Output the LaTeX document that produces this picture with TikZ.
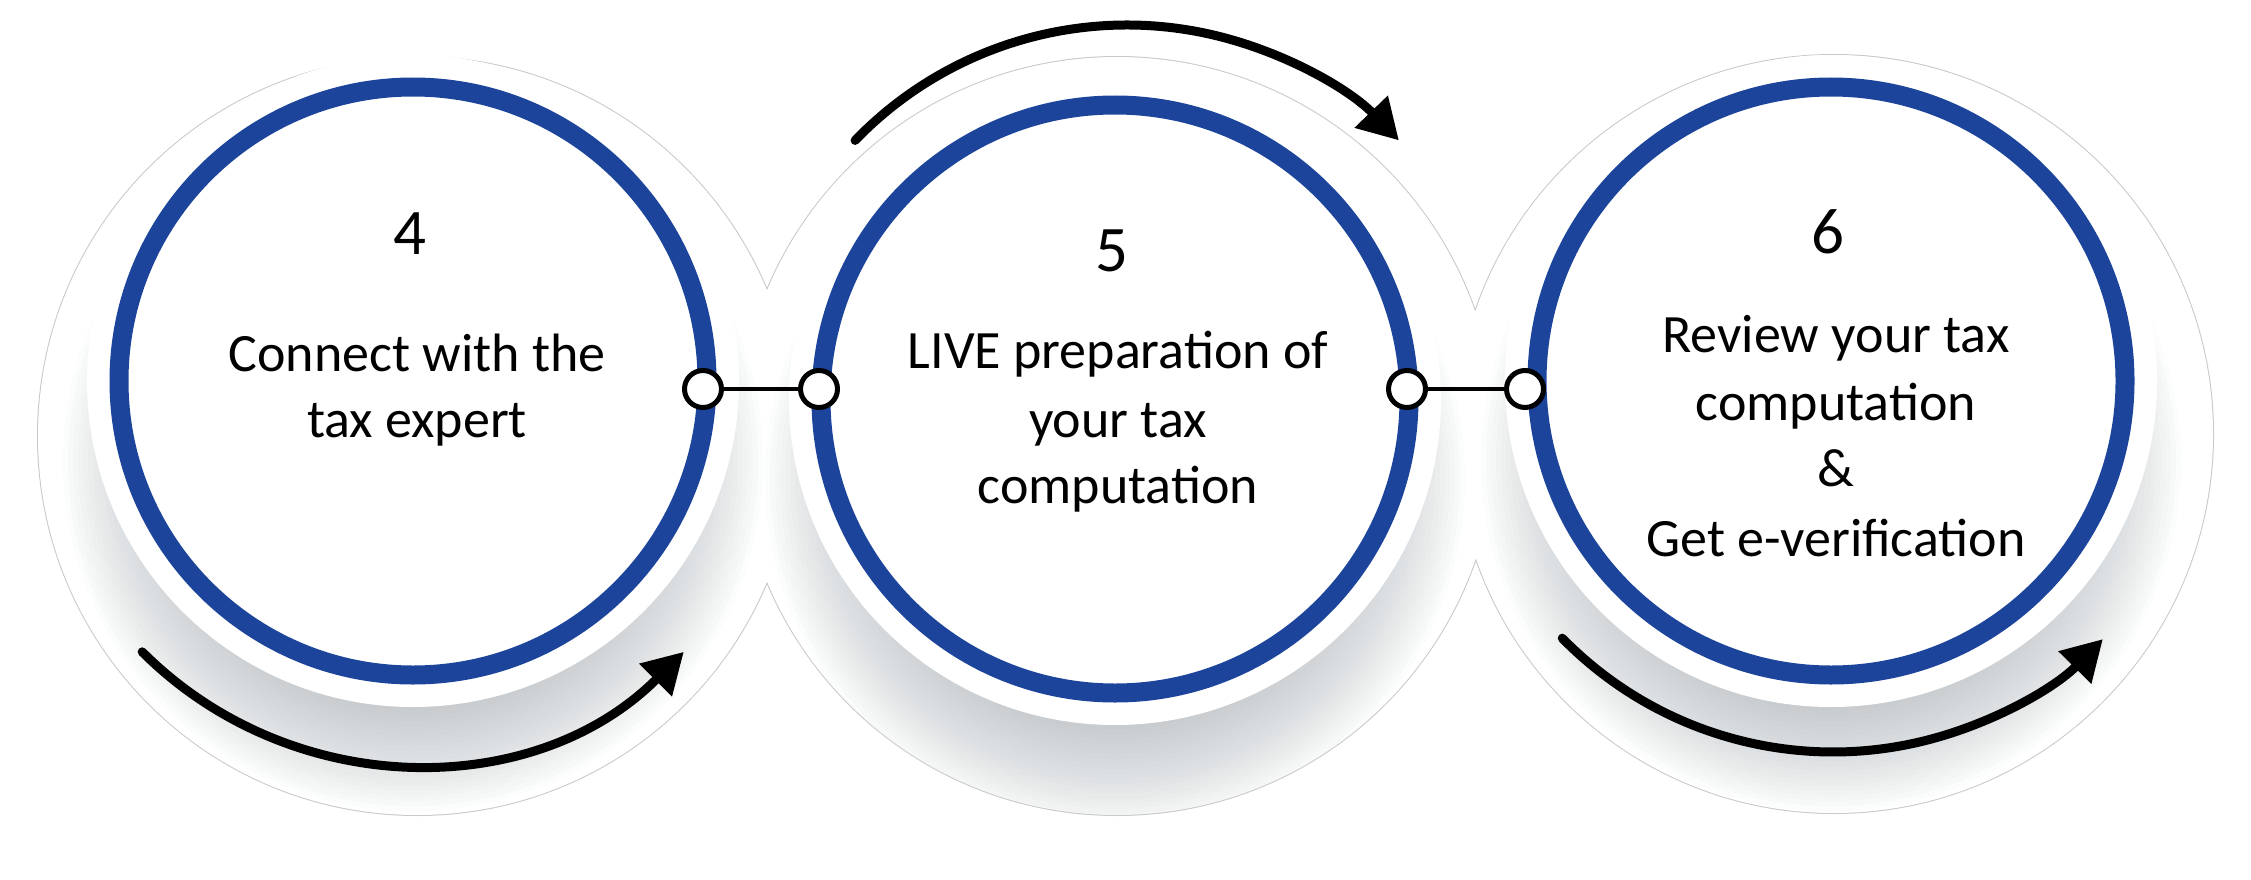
\documentclass[tikz,border=0pt]{standalone}
\usepackage{fontspec}
\setmainfont{Carlito}
\usetikzlibrary{arrows.meta,calc}
\definecolor{ringblue}{RGB}{28,68,155}
\definecolor{shadowgray}{RGB}{165,172,180}
\definecolor{outlinegray}{RGB}{200,200,200}
\begin{document}
\begin{tikzpicture}[x=1pt,y=-1pt,
  ringline/.style={draw=ringblue, line width=19pt},
  flowarrow/.style={line width=9pt, line cap=round, -{Triangle[length=40pt,width=44pt]}},
  portdot/.style={circle, draw=black, fill=white, line width=5pt, minimum size=37pt, inner sep=0pt},
  linkline/.style={line width=4.5pt},
  numtext/.style={font=\fontsize{65}{78}\selectfont, anchor=base, inner sep=0pt},
  bodytext/.style={font=\fontsize{54}{66}\selectfont, anchor=base, inner sep=0pt}]
\useasboundingbox (0,0) rectangle (2251,880);
% centres
\coordinate (c1) at (413,381);
\coordinate (c2) at (1115,399);
\coordinate (c3) at (1831,381);
\coordinate (o1) at (417,436);
\coordinate (o2) at (1117,436);
\coordinate (o3) at (1834,434);
\coordinate (s1) at (413,461);
\coordinate (s2) at (1115,479);
\coordinate (s3) at (1831,461);
\coordinate (a1) at (413,381);
\coordinate (a2) at (1127,403);
\coordinate (a3) at (1833,373);
% outer union outline
\draw[outlinegray, line width=2pt] (o1) circle[radius=379] (o2) circle[radius=379] (o3) circle[radius=379];
\fill[white] (o1) circle[radius=379] (o2) circle[radius=379] (o3) circle[radius=379];
% soft shadows
\begin{scope}
\clip (o1) circle[radius=379] (o2) circle[radius=379] (o3) circle[radius=379];
\foreach \s in {s1,s2,s3}{
  \foreach \r in {250,255,...,350}{
    \fill[shadowgray, fill opacity=0.035] (\s) circle[radius=\r];
  }
}
\end{scope}
% white discs and blue rings
\foreach \c in {c1,c2,c3}{
  \fill[white] (\c) circle[radius=326];
  \draw[ringline] (\c) circle[radius=294];
}
% curved arrows
\draw[flowarrow] ($(a1)+(135:383)$) arc[start angle=135, end angle=45, radius=383];
\draw[flowarrow] ($(a2)+(224:378)$) arc[start angle=224, end angle=316, radius=378];
\draw[flowarrow] ($(a3)+(135.6:379)$) arc[start angle=135.6, end angle=44.6, radius=379];
% connectors
\node[portdot] (p1) at (703,389) {};
\node[portdot] (p2) at (819,389) {};
\node[portdot] (p3) at (1407,389) {};
\node[portdot] (p4) at (1525,389) {};
\draw[linkline] (p1) -- (p2);
\draw[linkline] (p3) -- (p4);
% texts
\node[numtext] (n4) at (410,254) {4};
\node[bodytext] (t1a) at (417,371) {Connect with the};
\node[bodytext] (t1b) at (417,437) {tax expert};
\node[numtext] (n5) at (1112,271) {5};
\node[bodytext] (t2a) at (1118,368) {LIVE preparation of};
\node[bodytext] (t2b) at (1118,437) {your tax};
\node[bodytext] (t2c) at (1118,503) {computation};
\node[numtext] (n6) at (1828,253) {6};
\node[bodytext] (t3a) at (1836,352) {Review your tax};
\node[bodytext] (t3b) at (1836,420) {computation};
\node[bodytext] (t3c) at (1836,486) {\&};
\node[bodytext] (t3d) at (1836,556) {Get e-verification};
\end{tikzpicture}
\end{document}
